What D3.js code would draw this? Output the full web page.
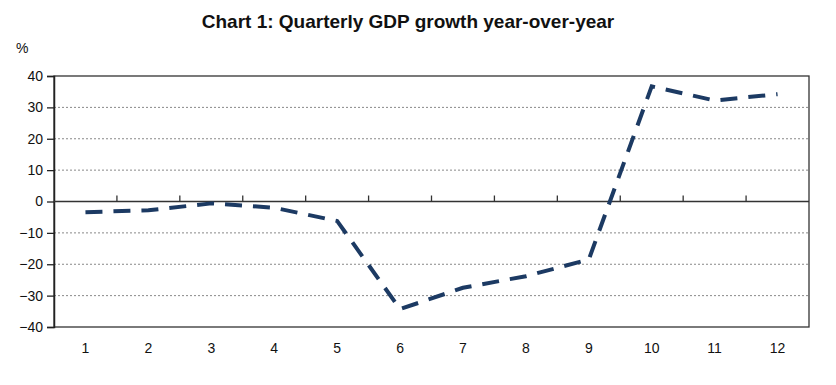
<!DOCTYPE html>
<html>
<head>
<meta charset="utf-8">
<script src="https://cdn.jsdelivr.net/npm/d3@7"></script>
<style>
  body { margin: 0; background: #fff; }
  svg text { font-family: "Liberation Sans", Arial, sans-serif; fill: #111; }
</style>
</head>
<body>
<svg id="chart" width="836" height="385"></svg>
<script>
const quarters = ["1", "2", "3", "4", "5", "6", "7", "8", "9", "10", "11", "12"];
const growth = [-3.4, -2.8, -0.6, -2, -6.2, -34.3, -27.5, -23.8, -18.5, 36.7, 32.2, 34.2];
const yTicks = [40, 30, 20, 10, 0, -10, -20, -30, -40];

const svg = d3.select("#chart");
const m = { left: 54, right: 27, top: 76, bottom: 58 };
const w = 836 - m.left - m.right,
    h = 385 - m.top - m.bottom;

const x = d3.scaleBand().domain(quarters).range([0, w]);
const y = d3.scaleLinear().domain([-40, 40]).range([h, 0]);

svg.append("text")
    .attr("x", 408).attr("y", 28)
    .attr("text-anchor", "middle")
    .style("font-size", "19px").style("font-weight", "bold")
    .text("Chart 1: Quarterly GDP growth year-over-year");

svg.append("text")
    .attr("x", 16).attr("y", 53)
    .style("font-size", "14px")
    .text("%");

const g = svg.append("g").attr("transform", `translate(${m.left},${m.top})`);

// dotted grid
g.selectAll(".grid")
    .data(yTicks.filter(d => d !== 0 && d !== 40 && d !== -40))
    .join("line")
    .attr("x1", 0).attr("x2", w)
    .attr("y1", d => y(d)).attr("y2", d => y(d))
    .attr("stroke", "#888").attr("stroke-width", 1)
    .attr("stroke-dasharray", "2,2");

// frame
g.append("rect")
    .attr("width", w).attr("height", h)
    .attr("fill", "none").attr("stroke", "#333").attr("stroke-width", 1.3);

// y axis
const yAxis = g.append("g")
    .call(d3.axisLeft(y).tickValues(yTicks).tickSize(7).tickPadding(4));
yAxis.select(".domain").attr("stroke", "#222").attr("stroke-width", 1.5);
yAxis.selectAll(".tick line").attr("stroke", "#222").attr("stroke-width", 1.3);
yAxis.selectAll("text").style("font-size", "14px");

// zero line with category boundary ticks
g.append("line")
    .attr("x1", 0).attr("x2", w)
    .attr("y1", y(0)).attr("y2", y(0))
    .attr("stroke", "#333").attr("stroke-width", 1.3);
g.selectAll(".ztick")
    .data(quarters.slice(1))
    .join("line")
    .attr("x1", d => x(d)).attr("x2", d => x(d))
    .attr("y1", y(0)).attr("y2", y(0) - 6)
    .attr("stroke", "#333").attr("stroke-width", 1.3);

// x labels
g.selectAll(".xlab")
    .data(quarters)
    .join("text")
    .attr("x", d => x(d) + x.bandwidth() / 2)
    .attr("y", h + 26)
    .attr("text-anchor", "middle")
    .style("font-size", "14px")
    .text(d => d);

// line
const line = d3.line()
    .x((d, i) => x(quarters[i]) + x.bandwidth() / 2)
    .y(d => y(d));

g.append("path")
    .datum(growth)
    .attr("d", line)
    .attr("fill", "none")
    .attr("stroke", "#1c3a63")
    .attr("stroke-width", 4)
    .attr("stroke-dasharray", "17,11");
</script>
</body>
</html>
